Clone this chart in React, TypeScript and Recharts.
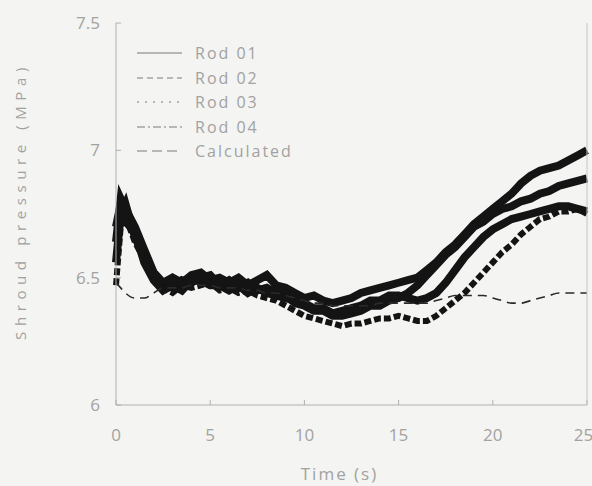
import { Legend, Line, LineChart, XAxis, YAxis } from "recharts";

const time = [
  0, 0.25, 0.5, 1, 1.5, 2, 2.5, 3, 3.5, 4, 4.5, 5, 5.5, 6, 6.5, 7, 7.5, 8, 8.5, 9, 9.5, 10, 10.5, 11, 11.5,
  12, 12.5, 13, 13.5, 14, 14.5, 15, 15.5, 16, 16.5, 17, 17.5, 18, 18.5, 19, 19.5, 20, 20.5, 21, 21.5, 22,
  22.5, 23, 23.5, 24, 24.5, 25
];

const rod01 = [
  6.64, 6.81, 6.77, 6.7, 6.61, 6.52, 6.48, 6.5, 6.48, 6.51, 6.52, 6.49, 6.5, 6.48, 6.5, 6.47, 6.49, 6.51,
  6.47, 6.46, 6.44, 6.42, 6.43, 6.41, 6.4, 6.41, 6.42, 6.44, 6.45, 6.46, 6.47, 6.48, 6.49, 6.5, 6.53, 6.56,
  6.6, 6.63, 6.67, 6.71, 6.74, 6.77, 6.8, 6.83, 6.87, 6.9, 6.92, 6.93, 6.94, 6.96, 6.98, 7.0
];
const rod02 = [
  6.56, 6.75, 6.79, 6.66, 6.58, 6.52, 6.47, 6.46, 6.49, 6.48, 6.5, 6.51, 6.47, 6.49, 6.46, 6.48, 6.45, 6.46,
  6.44, 6.43, 6.4, 6.39, 6.37, 6.37, 6.35, 6.35, 6.36, 6.37, 6.39, 6.39, 6.41, 6.42, 6.44, 6.47, 6.51, 6.55,
  6.59, 6.62, 6.66, 6.7, 6.72, 6.75, 6.77, 6.78, 6.8, 6.81, 6.83, 6.84, 6.86, 6.87, 6.88, 6.89
];
const rod03 = [
  6.7, 6.79, 6.72, 6.68, 6.56, 6.49, 6.45, 6.47, 6.45, 6.49, 6.49, 6.47, 6.47, 6.45, 6.47, 6.44, 6.46, 6.44,
  6.43, 6.42, 6.41, 6.4, 6.38, 6.38, 6.36, 6.37, 6.38, 6.39, 6.41, 6.41, 6.43, 6.43, 6.42, 6.41, 6.42, 6.44,
  6.48, 6.53, 6.58, 6.62, 6.66, 6.69, 6.71, 6.73, 6.74, 6.75, 6.76, 6.77, 6.78, 6.78, 6.77, 6.76
];
const rod04 = [
  6.47, 6.7, 6.74, 6.64, 6.57, 6.5, 6.46, 6.44, 6.47, 6.46, 6.47, 6.48, 6.45, 6.46, 6.44, 6.45, 6.43, 6.42,
  6.41, 6.39, 6.37, 6.35, 6.34, 6.33, 6.32, 6.31, 6.32, 6.32, 6.33, 6.34, 6.34, 6.35, 6.34, 6.33, 6.33, 6.35,
  6.38, 6.41, 6.44, 6.48, 6.52, 6.56, 6.6, 6.63, 6.67, 6.7, 6.73, 6.74, 6.76, 6.76, 6.77, 6.75
];
const calculated = [
  6.48, 6.46, 6.44, 6.42, 6.42, 6.44, 6.46, 6.46, 6.46, 6.47, 6.47, 6.47, 6.46, 6.46, 6.46, 6.45, 6.45, 6.44,
  6.44, 6.43, 6.42, 6.41, 6.4, 6.4, 6.39, 6.39, 6.39, 6.39, 6.39, 6.4, 6.4, 6.4, 6.4, 6.4, 6.4, 6.41, 6.42,
  6.43, 6.43, 6.43, 6.43, 6.42, 6.41, 6.4, 6.4, 6.41, 6.42, 6.43, 6.44, 6.44, 6.44, 6.44
];

const xTicks = [0, 5, 10, 15, 20, 25];
const yTicks = [6, 6.5, 7, 7.5];

const series = [
  { key: "rod01", name: "Rod 01", dash: undefined, sample: undefined },
  { key: "rod02", name: "Rod 02", dash: undefined, sample: "6 4" },
  { key: "rod03", name: "Rod 03", dash: undefined, sample: "2 6" },
  { key: "rod04", name: "Rod 04", dash: "7 3", sample: "8 3 2 3" },
  { key: "calculated", name: "Calculated", dash: "9 6", sample: "10 5" }
];

const data = time.map((t, i) => ({
  t,
  rod01: rod01[i],
  rod02: rod02[i],
  rod03: rod03[i],
  rod04: rod04[i],
  calculated: calculated[i]
}));

const gray = "#a2a2a0";
const font = "'Open Sans', sans-serif";

function LegendBox() {
  return (
    <div style={{ fontFamily: font, color: gray, fontSize: 16, letterSpacing: 2 }}>
      {series.map((s) => (
        <div key={s.key} style={{ display: "flex", alignItems: "center", height: 24.5 }}>
          <svg width={58} height={10}>
            <line x1={0} y1={5} x2={45} y2={5} stroke={gray} strokeWidth={1.3} strokeDasharray={s.sample} />
          </svg>
          <span>{s.name}</span>
        </div>
      ))}
    </div>
  );
}

export default function App() {
  return (
    <div style={{ padding: 8, width: 576, height: 470, background: "#f4f4f2" }}>
      <style>{"html,body{margin:0;overflow:hidden;}"}</style>
      <LineChart width={584} height={478} data={data} margin={{ top: 15, right: 4, bottom: 0, left: 0 }}>
        <XAxis
          dataKey="t"
          type="number"
          domain={[0, 25]}
          ticks={xTicks}
          height={81}
          tickSize={-5}
          tickMargin={29}
          stroke="#b0b0ae"
          tick={{ fill: gray, fontSize: 17, fontFamily: font }}
          label={{ value: "Time (s)", position: "insideBottom", offset: 6, dx: -12, fill: gray, fontSize: 17, fontFamily: font, letterSpacing: 2 }}
        />
        <XAxis xAxisId="top" dataKey="t" type="number" domain={[0, 25]} orientation="top" height={0} ticks={xTicks} tick={false} tickSize={-4} stroke="#c4c4c2" />
        <YAxis
          type="number"
          domain={[6, 7.5]}
          ticks={yTicks}
          width={108}
          tickSize={-5}
          tickMargin={21}
          stroke="#b0b0ae"
          tick={{ fill: gray, fontSize: 17, fontFamily: font }}
          label={() => (
            <text
              x={14}
              y={193}
              transform="rotate(-90 14 193)"
              textAnchor="middle"
              dominantBaseline="middle"
              fill={gray}
              fontSize={15}
              fontFamily={font}
              letterSpacing={5.6}
            >
              Shroud pressure (MPa)
            </text>
          )}
        />
        <YAxis yAxisId="right" orientation="right" domain={[6, 7.5]} width={1} tick={false} tickSize={0} stroke="#c4c4c2" />
        <Legend
          layout="vertical"
          verticalAlign="middle"
          align="center"
          content={() => <LegendBox />}
          wrapperStyle={{ left: 129, top: 33, width: 200 }}
        />
        {series.slice(0, 4).map((s) => (
          <Line
            key={s.key}
            dataKey={s.key}
            name={s.name}
            type="linear"
            stroke="#141414"
            strokeWidth={s.key === "rod04" ? 6 : 8}
            strokeDasharray={s.dash}
            dot={false}
            isAnimationActive={false}
          />
        ))}
        <Line
          dataKey="calculated"
          name="Calculated"
          type="monotone"
          stroke="#2a2a2a"
          strokeWidth={1.6}
          strokeDasharray="9 6"
          dot={false}
          isAnimationActive={false}
        />
      </LineChart>
    </div>
  );
}
